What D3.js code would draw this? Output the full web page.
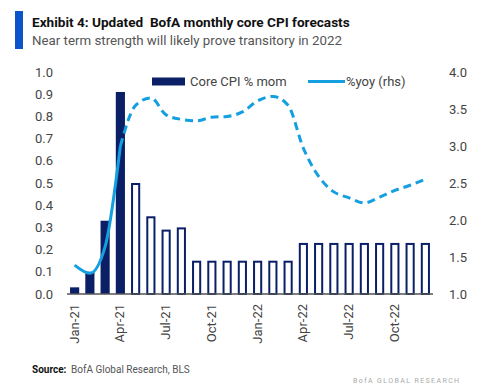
<!DOCTYPE html>
<html>
<head>
<meta charset="utf-8">
<script src="https://cdn.jsdelivr.net/npm/d3@7"></script>
<style>
  body { margin: 0; background: #fff; }
  svg { display: block; font-family: Roboto, "Open Sans", sans-serif; }
</style>
</head>
<body>
<div id="chart"></div>
<script>
// months Jan-21 .. Dec-22
const months = ["Jan-21","Feb-21","Mar-21","Apr-21","May-21","Jun-21","Jul-21","Aug-21","Sep-21","Oct-21","Nov-21","Dec-21",
                "Jan-22","Feb-22","Mar-22","Apr-22","May-22","Jun-22","Jul-22","Aug-22","Sep-22","Oct-22","Nov-22","Dec-22"];
// core CPI % mom (first 4 actual, rest forecast)
const mom = [0.03, 0.10, 0.33, 0.91, 0.50, 0.35, 0.29, 0.30, 0.15, 0.15, 0.15, 0.15,
             0.15, 0.15, 0.15, 0.23, 0.23, 0.23, 0.23, 0.23, 0.23, 0.23, 0.23, 0.23];
// %yoy (rhs)
const yoy = [1.39, 1.28, 1.64, 3.0, 3.55, 3.65, 3.42, 3.36, 3.34, 3.39, 3.40, 3.46,
             3.61, 3.67, 3.55, 2.97, 2.59, 2.38, 2.30, 2.23, 2.31, 2.40, 2.47, 2.55];
const nActual = 4;
const xTickLabels = ["Jan-21","Apr-21","Jul-21","Oct-21","Jan-22","Apr-22","Jul-22","Oct-22"];
const leftTicks = [0, 0.1, 0.2, 0.3, 0.4, 0.5, 0.6, 0.7, 0.8, 0.9, 1.0];
const rightTicks = [1.0, 1.5, 2.0, 2.5, 3.0, 3.5, 4.0];

const W = 500, H = 384;
const navy = "#0b1f66", lightBlue = "#149fe0", textGray = "#444";

const svg = d3.select("#chart").append("svg")
    .attr("width", W)
    .attr("height", H);

// header
svg.append("rect").attr("x", 15).attr("y", 11).attr("width", 8).attr("height", 38).attr("fill", "#0a56c8");
svg.append("text").attr("x", 32).attr("y", 27)
    .style("font-size", "13.6px").style("font-weight", "bold").style("white-space", "pre").attr("fill", "#111")
    .text("Exhibit 4: Updated  BofA monthly core CPI forecasts");
svg.append("text").attr("x", 32).attr("y", 45)
    .style("font-size", "13.3px").attr("fill", "#555")
    .text("Near term strength will likely prove transitory in 2022");

const x = d3.scaleBand().domain(months).range([67, 433]).paddingInner(0.4).paddingOuter(0.2);
const yL = d3.scaleLinear().domain([0, 1]).range([294, 72]);
const yR = d3.scaleLinear().domain([1, 4]).range([294, 72]);

// left axis
svg.append("g")
    .attr("transform", "translate(58,0)")
    .call(d3.axisLeft(yL).tickValues(leftTicks).tickFormat(d3.format(".1f")).tickSize(0).tickPadding(5))
    .call(g => g.select(".domain").remove())
    .call(g => g.selectAll("text").attr("fill", textGray).style("font-size", "13px").style("font-family", "Roboto"));

// right axis
svg.append("g")
    .attr("transform", "translate(444,0)")
    .call(d3.axisRight(yR).tickValues(rightTicks).tickFormat(d3.format(".1f")).tickSize(0).tickPadding(5))
    .call(g => g.select(".domain").remove())
    .call(g => g.selectAll("text").attr("fill", textGray).style("font-size", "13px").style("font-family", "Roboto"));

// bars
svg.selectAll("rect.bar")
    .data(months)
    .join("rect")
    .attr("class", "bar")
    .attr("x", (d, i) => i < nActual ? x(d) : x(d) + 1)
    .attr("width", (d, i) => i < nActual ? x.bandwidth() : x.bandwidth() - 2)
    .attr("y", (d, i) => i < nActual ? yL(mom[i]) : yL(mom[i]) + 1)
    .attr("height", (d, i) => i < nActual ? yL(0) - yL(mom[i]) : yL(0) - yL(mom[i]) - 1)
    .attr("fill", (d, i) => i < nActual ? navy : "#fff")
    .attr("stroke", (d, i) => i < nActual ? "none" : navy)
    .attr("stroke-width", 2);

// baseline
svg.append("line")
    .attr("x1", 67).attr("x2", 433)
    .attr("y1", yL(0)).attr("y2", yL(0))
    .attr("stroke", "#555").attr("stroke-width", 1.5);

// yoy line: solid for actual, dashed for forecast
const pts = months.map((m, i) => [x(m) + x.bandwidth() / 2, yR(yoy[i])]);
const line = d3.line().curve(d3.curveMonotoneX);
svg.append("path")
    .attr("d", line(pts.slice(0, nActual)))
    .attr("fill", "none").attr("stroke", lightBlue).attr("stroke-width", 3);
svg.append("path")
    .attr("d", line(pts.slice(nActual - 1)))
    .attr("fill", "none").attr("stroke", lightBlue).attr("stroke-width", 3)
    .attr("stroke-dasharray", "8,5");

// x tick labels
svg.selectAll("text.xl")
    .data(xTickLabels)
    .join("text")
    .attr("class", "xl")
    .attr("transform", d => `translate(${x(d) + x.bandwidth() / 2 + 4},304) rotate(-90)`)
    .attr("text-anchor", "end")
    .attr("fill", textGray)
    .style("font-size", "13px")
    .text(d => d);

// legend
svg.append("rect").attr("x", 152).attr("y", 77.5).attr("width", 33).attr("height", 8).attr("fill", navy);
svg.append("text").attr("x", 190).attr("y", 86).style("font-size", "13px").attr("fill", textGray).text("Core CPI % mom");
svg.append("line").attr("x1", 308).attr("x2", 345).attr("y1", 81.5).attr("y2", 81.5)
    .attr("stroke", lightBlue).attr("stroke-width", 3);
svg.append("text").attr("x", 346).attr("y", 86).style("font-size", "13px").attr("fill", textGray).text("%yoy (rhs)");

// source
svg.append("text").attr("x", 32).attr("y", 373).style("font-size", "10px").attr("fill", "#111")
    .style("font-weight", "bold").text("Source:");
svg.append("text").attr("x", 71).attr("y", 373).style("font-size", "10px").attr("fill", "#555")
    .text("BofA Global Research, BLS");
svg.append("text").attr("x", 353).attr("y", 383).style("font-size", "7px").attr("fill", "#aaa")
    .style("letter-spacing", "1.4px").text("BofA GLOBAL RESEARCH");
</script>
</body>
</html>
